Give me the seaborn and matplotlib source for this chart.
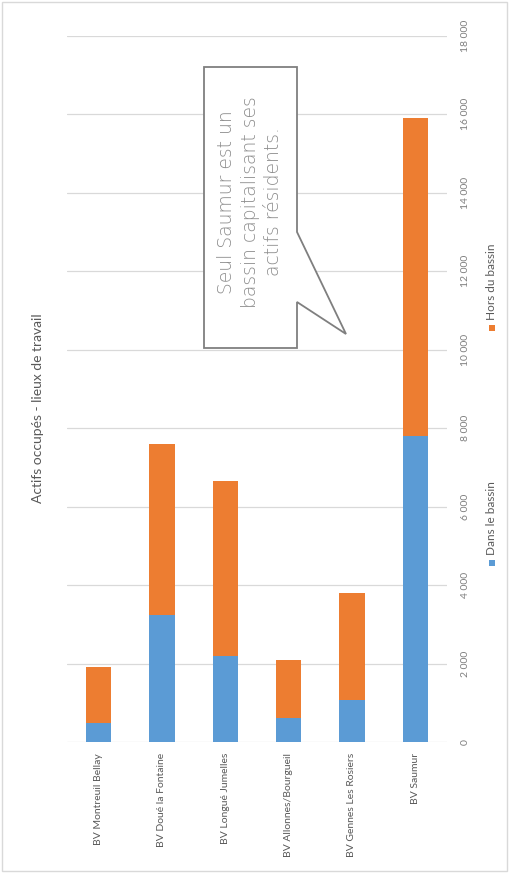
import matplotlib
matplotlib.use("Agg")
import matplotlib.pyplot as plt
from matplotlib.patches import Rectangle, Polygon
from matplotlib.ticker import FuncFormatter, MultipleLocator
import seaborn as sns
import pandas as pd

# Working population by basin: jobs held inside / outside the home basin
categories = ["BV Montreuil Bellay", "BV Doué la Fontaine", "BV Longué Jumelles",
              "BV Allonnes/Bourgueil", "BV Gennes Les Rosiers", "BV Saumur"]
dans_bassin = [480, 3230, 2200, 600, 1080, 7800]
hors_bassin = [1420, 4370, 4450, 1500, 2720, 8100]
series_names = ["Dans le bassin", "Hors du bassin"]
title = "Actifs occupés - lieux de travail"
callout = "Seul Saumur est un\nbassin capitalisant ses\nactifs résidents."

BLUE = "#5B9BD5"
ORANGE = "#ED7D31"
GREY_TXT = "#595959"
GREY_TICK = "#7F7F7F"
GRID = "#D9D9D9"

sns.set_style("white")
plt.rcParams["font.family"] = ["Lato", "DejaVu Sans"]

W, H = 510, 874
fig = plt.figure(figsize=(W / 100, H / 100), dpi=100)


def fx(x):
    return x / W


def fy(y):
    return 1 - y / H


df = pd.DataFrame({"cat": categories, "dans": dans_bassin, "hors": hors_bassin})
df["total"] = df["dans"] + df["hors"]

ax = fig.add_axes([fx(67), fy(742), fx(447) - fx(67), fy(35.5) - fy(742)])
sns.barplot(data=df, x="cat", y="total", color=ORANGE, saturation=1, width=0.4, ax=ax, zorder=3)
sns.barplot(data=df, x="cat", y="dans", color=BLUE, saturation=1, width=0.4, ax=ax, zorder=3)
for p in ax.patches:
    p.set_edgecolor("none")

ax.set_ylim(0, 18000)
ax.set_xlim(-0.5, len(categories) - 0.5)
ax.yaxis.set_major_locator(MultipleLocator(2000))
ax.yaxis.set_major_formatter(FuncFormatter(lambda v, _: f"{int(v):,}".replace(",", " ")))
ax.yaxis.tick_right()
ax.grid(axis="y", color=GRID, linewidth=0.9, zorder=0)
ax.set_axisbelow(True)
for s in ax.spines.values():
    s.set_visible(False)
ax.set_xlabel("")
ax.set_ylabel("")
ax.tick_params(axis="y", length=0, pad=10, labelsize=7.5, labelcolor=GREY_TICK)
ax.tick_params(axis="x", length=0, pad=8, labelsize=7.5, labelcolor=GREY_TXT)
for lab in ax.get_yticklabels():
    lab.set_rotation(90)
    lab.set_va("center")
for lab in ax.get_xticklabels():
    lab.set_rotation(90)

# Title, rotated along the left edge
fig.text(fx(38), fy(408), title, rotation=90, ha="center", va="center",
         fontsize=10, color=GREY_TXT)

# Legend drawn by hand so it can run vertically along the right edge
for name, color, ysq in [(series_names[0], BLUE, 563), (series_names[1], ORANGE, 328)]:
    fig.patches.append(Rectangle((fx(489), fy(ysq + 3)), fx(6), 6 / H, facecolor=color,
                                 edgecolor="none", transform=fig.transFigure))
    fig.text(fx(492), fy(ysq - 8), name, rotation=90, ha="center", va="bottom",
             fontsize=8.5, color=GREY_TXT)

# Callout box with a pointer towards the Saumur bar
pts = [(204, 67), (297, 67), (297, 232), (346, 334), (297, 302), (297, 348), (204, 348)]
fig.patches.append(Polygon([(fx(x), fy(y)) for x, y in pts], closed=True,
                           facecolor="white", edgecolor="#7F7F7F", linewidth=1.3,
                           transform=fig.transFigure, zorder=5))
fig.text(fx(250), fy(202), callout, rotation=90, ha="center", va="center",
         multialignment="center", fontsize=13.5, color="#8C8C8C", weight="light",
         family=["DejaVu Sans"], linespacing=1.3, zorder=6)

# Light frame around the whole chart
fig.patches.append(Rectangle((fx(2), fy(871)), fx(505), (869) / H, facecolor="none",
                             edgecolor=GRID, linewidth=1, transform=fig.transFigure))

fig.savefig("out.png", dpi=100, facecolor="white")
